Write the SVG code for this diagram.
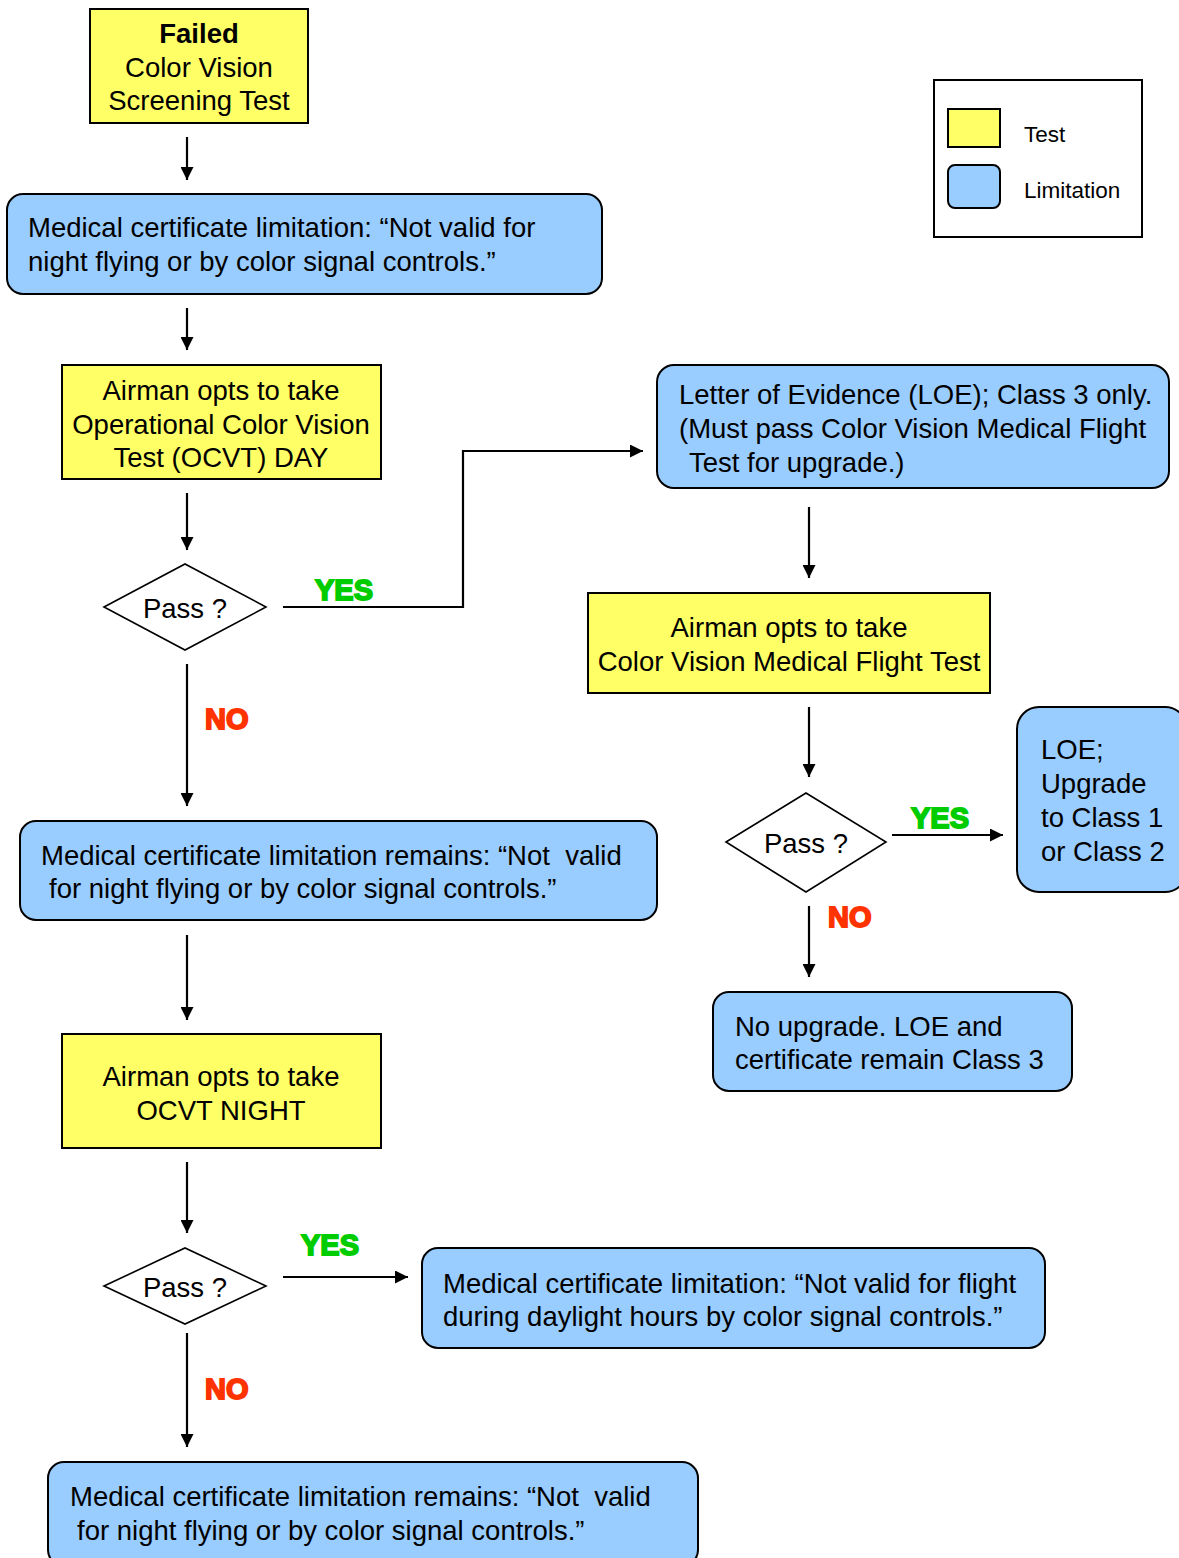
<svg xmlns="http://www.w3.org/2000/svg" width="1179" height="1558" viewBox="0 0 1179 1558">
<style>
.test{fill:#FFFF66;stroke:#000;stroke-width:2}
.lim{fill:#99CCFF;stroke:#000;stroke-width:2}
.dec{fill:#fff;stroke:#000;stroke-width:1.6}
.t{font-family:"Liberation Sans",Arial,sans-serif;font-size:27.5px;fill:#000}
.c{text-anchor:middle}
.leg{font-family:"Liberation Sans",Arial,sans-serif;font-size:22.5px;fill:#000}
.yes{font-family:"Liberation Sans",Arial,sans-serif;font-weight:bold;font-size:29px;fill:#00CC00;stroke:#00CC00;stroke-width:1.8}
.no{font-family:"Liberation Sans",Arial,sans-serif;font-weight:bold;font-size:29px;fill:#FF3300;stroke:#FF3300;stroke-width:1.8}
.ln{fill:none;stroke:#000;stroke-width:2.2;marker-end:url(#ah)}
</style>
<defs>
<marker id="ah" viewBox="0 0 13 13" refX="13" refY="6.5" markerWidth="13" markerHeight="13" markerUnits="userSpaceOnUse" orient="auto">
<path d="M0,0 L13,6.5 L0,13 z" fill="#000"/>
</marker>
</defs>
<rect width="1179" height="1558" fill="#fff"/>

<g id="connectors">
<line class="ln" x1="187" y1="137" x2="187" y2="180"/>
<line class="ln" x1="187" y1="308" x2="187" y2="350"/>
<line class="ln" x1="187" y1="493" x2="187" y2="550"/>
<polyline class="ln" points="283,607 463,607 463,451 643,451"/>
<line class="ln" x1="187" y1="664" x2="187" y2="806"/>
<line class="ln" x1="187" y1="935" x2="187" y2="1020"/>
<line class="ln" x1="187" y1="1162" x2="187" y2="1233"/>
<line class="ln" x1="283" y1="1277" x2="408" y2="1277"/>
<line class="ln" x1="187" y1="1333" x2="187" y2="1447"/>
<line class="ln" x1="809" y1="507" x2="809" y2="578"/>
<line class="ln" x1="809" y1="707" x2="809" y2="777"/>
<line class="ln" x1="892" y1="835" x2="1003" y2="835"/>
<line class="ln" x1="809" y1="906" x2="809" y2="977"/>
<text class="yes" x="315" y="600">YES</text>
<text class="no" x="205" y="729">NO</text>
<text class="yes" x="301" y="1255">YES</text>
<text class="no" x="205" y="1399">NO</text>
<text class="yes" x="911" y="828">YES</text>
<text class="no" x="828" y="927">NO</text>
</g>

<g id="failed-screening">
<rect class="test" x="90" y="9" width="218" height="114"/>
<text class="t c" x="199" y="43" font-weight="bold">Failed</text>
<text class="t c" x="199" y="77">Color Vision</text>
<text class="t c" x="199" y="110">Screening Test</text>
</g>

<g id="limitation-night">
<rect class="lim" x="7" y="194" width="595" height="100" rx="16"/>
<text class="t" x="28" y="237">Medical certificate limitation: “Not valid for</text>
<text class="t" x="28" y="271">night flying or by color signal controls.”</text>
</g>

<g id="ocvt-day">
<rect class="test" x="62" y="365" width="319" height="114"/>
<text class="t c" x="221" y="400">Airman opts to take</text>
<text class="t c" x="221" y="434">Operational Color Vision</text>
<text class="t c" x="221" y="467">Test (OCVT) DAY</text>
</g>

<g id="pass-day">
<polygon class="dec" points="104,607 185,564 266,607 185,650"/>
<text class="t c" x="185" y="618">Pass ?</text>
</g>

<g id="remains-1">
<rect class="lim" x="20" y="821" width="637" height="99" rx="16"/>
<text class="t" x="41" y="865" xml:space="preserve">Medical certificate limitation remains: “Not  valid</text>
<text class="t" x="49" y="898">for night flying or by color signal controls.”</text>
</g>

<g id="ocvt-night">
<rect class="test" x="62" y="1034" width="319" height="114"/>
<text class="t c" x="221" y="1086">Airman opts to take</text>
<text class="t c" x="221" y="1120">OCVT NIGHT</text>
</g>

<g id="pass-night">
<polygon class="dec" points="104,1286 185,1248 266,1286 185,1324"/>
<text class="t c" x="185" y="1297">Pass ?</text>
</g>

<g id="limitation-day">
<rect class="lim" x="422" y="1248" width="623" height="100" rx="16"/>
<text class="t" x="443" y="1293">Medical certificate limitation: “Not valid for flight</text>
<text class="t" x="443" y="1326">during daylight hours by color signal controls.”</text>
</g>

<g id="remains-2">
<rect class="lim" x="48" y="1462" width="650" height="104" rx="16"/>
<text class="t" x="70" y="1506" xml:space="preserve">Medical certificate limitation remains: “Not  valid</text>
<text class="t" x="77" y="1540">for night flying or by color signal controls.”</text>
</g>

<g id="loe-class3">
<rect class="lim" x="657" y="365" width="512" height="123" rx="17"/>
<text class="t" x="679" y="404">Letter of Evidence (LOE); Class 3 only.</text>
<text class="t" x="679" y="438">(Must pass Color Vision Medical Flight</text>
<text class="t" x="689" y="472">Test for upgrade.)</text>
</g>

<g id="flight-test">
<rect class="test" x="588" y="593" width="402" height="100"/>
<text class="t c" x="789" y="637">Airman opts to take</text>
<text class="t c" x="789" y="671">Color Vision Medical Flight Test</text>
</g>

<g id="pass-flight">
<polygon class="dec" points="726,842 806,793 886,842 806,892"/>
<text class="t c" x="806" y="853">Pass ?</text>
</g>

<g id="loe-upgrade">
<rect class="lim" x="1017" y="707" width="170" height="185" rx="22"/>
<text class="t" x="1041" y="759">LOE;</text>
<text class="t" x="1041" y="793">Upgrade</text>
<text class="t" x="1041" y="827">to Class 1</text>
<text class="t" x="1041" y="861">or Class 2</text>
</g>

<g id="no-upgrade">
<rect class="lim" x="713" y="992" width="359" height="99" rx="16"/>
<text class="t" x="735" y="1036">No upgrade. LOE and</text>
<text class="t" x="735" y="1069">certificate remain Class 3</text>
</g>

<g id="legend">
<rect x="934" y="80" width="208" height="157" fill="#fff" stroke="#000" stroke-width="2"/>
<rect class="test" x="948" y="109" width="52" height="38"/>
<rect class="lim" x="948" y="165" width="52" height="43" rx="7"/>
<text class="leg" x="1024" y="142">Test</text>
<text class="leg" x="1024" y="198">Limitation</text>
</g>
</svg>
